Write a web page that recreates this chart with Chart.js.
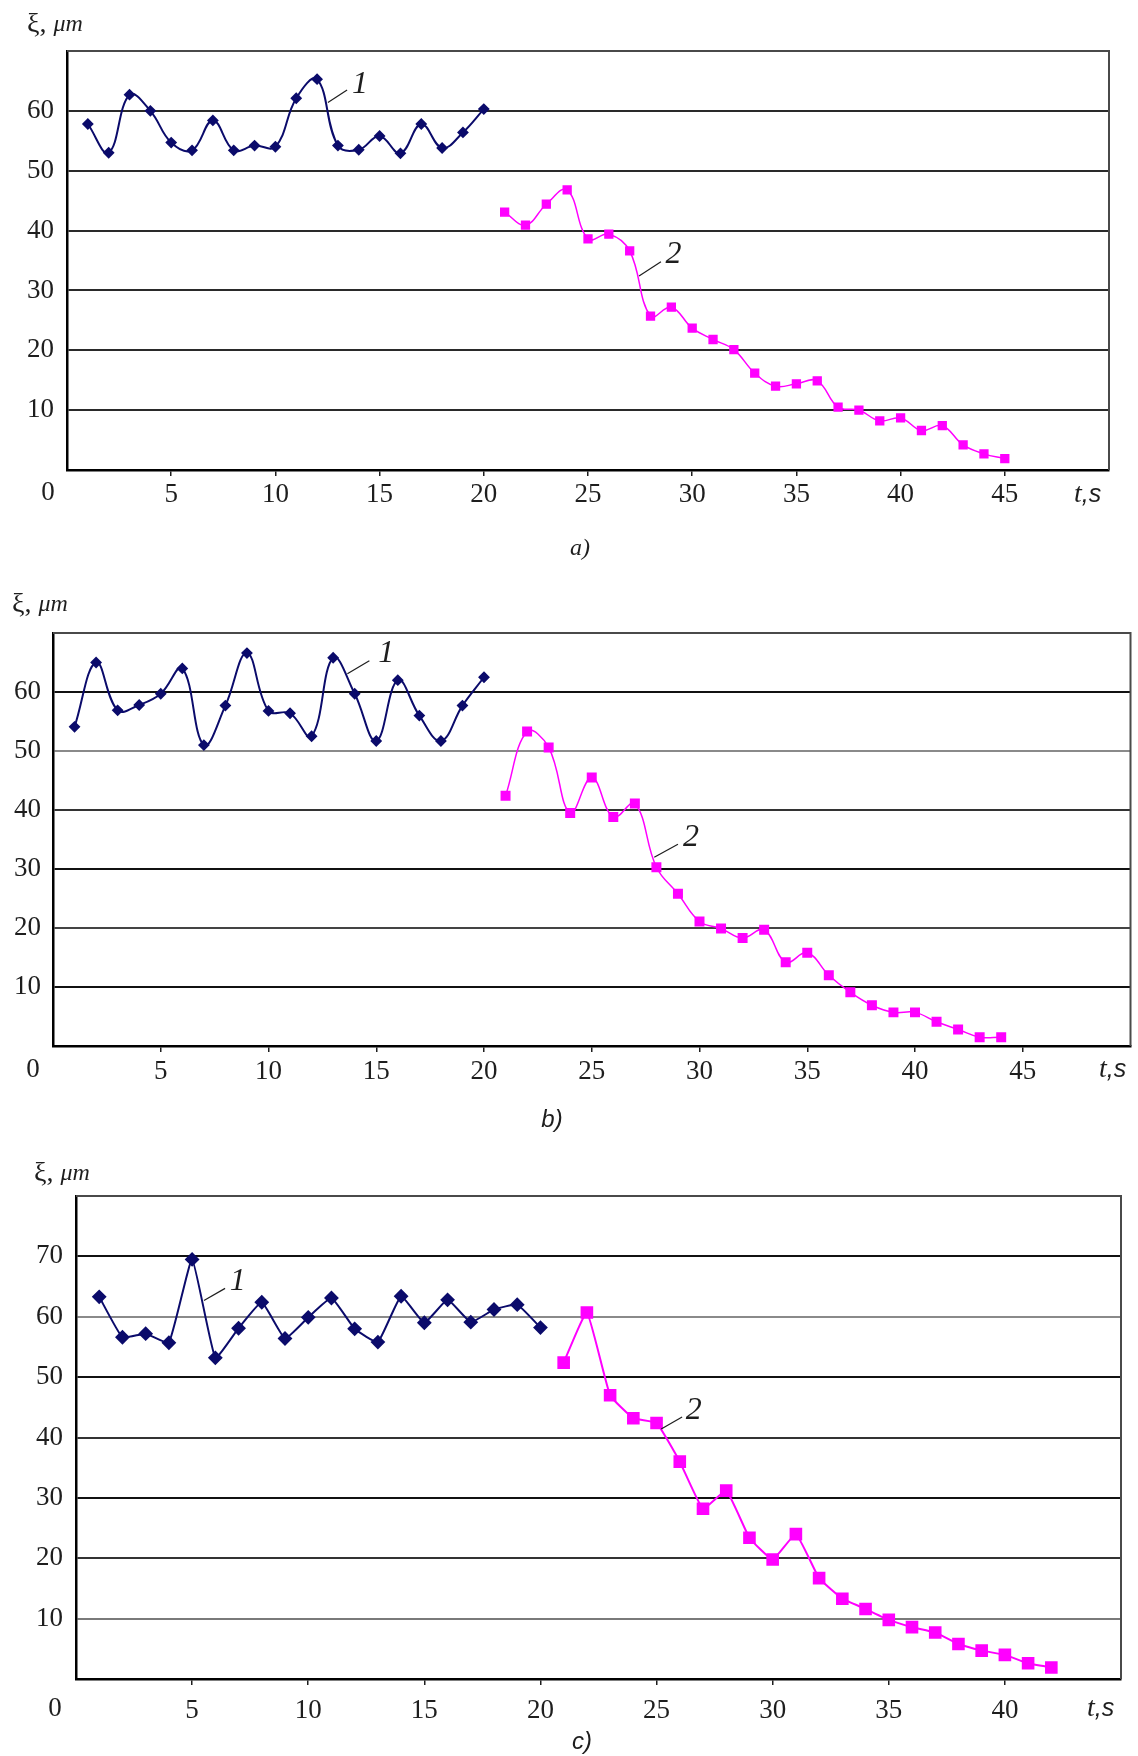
<!DOCTYPE html>
<html>
<head>
<meta charset="utf-8">
<script src="https://cdn.jsdelivr.net/npm/chart.js@4.4.1/dist/chart.umd.min.js"></script>
<style>
  html, body { margin: 0; padding: 0; background: #fff; }
  #page { position: relative; width: 1138px; height: 1756px; overflow: hidden; }
  canvas { position: absolute; left: 0; }
</style>
</head>
<body>
<div id="page">
  <canvas id="chartA" width="1138" height="580" style="top:0px"></canvas>
  <canvas id="chartB" width="1138" height="580" style="top:580px"></canvas>
  <canvas id="chartC" width="1138" height="596" style="top:1160px"></canvas>
</div>
<script>
// panel a)
const tA1 = [1, 2, 3, 4, 5, 6, 7, 8, 9, 10, 11, 12, 13, 14, 15, 16, 17, 18, 19, 20];
const xiA1 = [57.8, 53.0, 62.7, 60.0, 54.7, 53.4, 58.4, 53.4, 54.2, 54.0, 62.1, 65.3, 54.2, 53.5, 55.8, 52.9, 57.8, 53.8, 56.4, 60.3];
const tA2 = [21, 22, 23, 24, 25, 26, 27, 28, 29, 30, 31, 32, 33, 34, 35, 36, 37, 38, 39, 40, 41, 42, 43, 44, 45];
const xiA2 = [43.1, 40.9, 44.4, 46.8, 38.6, 39.4, 36.6, 25.7, 27.2, 23.7, 21.8, 20.1, 16.2, 14.0, 14.4, 14.9, 10.5, 10.0, 8.2, 8.7, 6.6, 7.4, 4.2, 2.7, 1.9];

// panel b)
const tB1 = [1, 2, 3, 4, 5, 6, 7, 8, 9, 10, 11, 12, 13, 14, 15, 16, 17, 18, 19, 20];
const xiB1 = [54.1, 65.0, 56.9, 57.8, 59.7, 64.0, 51.0, 57.7, 66.6, 56.8, 56.4, 52.5, 65.8, 59.7, 51.7, 62.0, 56.0, 51.7, 57.7, 62.5];
const tB2 = [21, 22, 23, 24, 25, 26, 27, 28, 29, 30, 31, 32, 33, 34, 35, 36, 37, 38, 39, 40, 41, 42, 43, 44];
const xiB2 = [42.4, 53.3, 50.6, 39.5, 45.5, 38.8, 41.1, 30.3, 25.8, 21.1, 19.9, 18.3, 19.7, 14.2, 15.8, 12.0, 9.1, 6.9, 5.7, 5.7, 4.1, 2.8, 1.5, 1.5];

// panel c)
const tC1 = [1, 2, 3, 4, 5, 6, 7, 8, 9, 10, 11, 12, 13, 14, 15, 16, 17, 18, 19, 20];
const xiC1 = [63.3, 56.6, 57.2, 55.7, 69.5, 53.2, 58.1, 62.4, 56.4, 59.9, 63.1, 58.0, 55.8, 63.4, 59.0, 62.8, 59.1, 61.2, 62.0, 58.2];
const tC2 = [21, 22, 23, 24, 25, 26, 27, 28, 29, 30, 31, 32, 33, 34, 35, 36, 37, 38, 39, 40, 41, 42];
const xiC2 = [52.4, 60.7, 47.0, 43.2, 42.4, 36.0, 28.2, 31.2, 23.4, 19.8, 24.0, 16.7, 13.3, 11.6, 9.8, 8.6, 7.7, 5.8, 4.7, 4.0, 2.6, 1.9];

const NAVY = '#0b0b6b';
const MAGENTA = '#ff00ff';
const INK = '#1e1e1e';

function pairs(ts, vs) {
    return ts.map((t, i) => ({ x: t, y: vs[i] }));
}

// titles, the 0 in the corner, t,s, panel letter, and the 1 / 2 callouts
const decorPlugin = {
    id: 'decor',
    afterDraw(chart, args, o) {
        const { ctx, chartArea: a } = chart;
        const sx = chart.scales.x, sy = chart.scales.y;
        ctx.save();

        // top and right edges of the frame
        ctx.strokeStyle = '#4a4a4a';
        ctx.lineWidth = 2;
        ctx.beginPath();
        ctx.moveTo(a.left, a.top);
        ctx.lineTo(a.right, a.top);
        ctx.lineTo(a.right, a.bottom);
        ctx.stroke();

        ctx.fillStyle = INK;
        ctx.textBaseline = 'middle';

        // axis title  ξ, μm
        ctx.textAlign = 'left';
        let x = o.title.x;
        ctx.font = '28px "Liberation Serif"';
        ctx.fillText('ξ, ', x, o.title.y);
        x += ctx.measureText('ξ, ').width;
        ctx.font = 'italic 24px "Liberation Serif"';
        ctx.fillText('μm', x, o.title.y);

        // corner zero
        ctx.textAlign = 'center';
        ctx.font = '27px "Liberation Serif"';
        ctx.fillText('0', o.zero.x, o.zero.y);

        // t,s
        ctx.textAlign = 'left';
        ctx.font = 'italic 28px "Liberation Serif"';
        let ux = o.unit.x - 16;
        ctx.fillText('t', ux, o.unit.y);
        ux += ctx.measureText('t').width;
        ctx.font = 'italic 25px "Liberation Sans"';
        ctx.fillText(',s', ux, o.unit.y);

        // panel letter
        ctx.textAlign = 'center';
        ctx.font = o.tag.font;
        ctx.fillText(o.tag.text, o.tag.x, o.tag.y);

        // curve callouts
        o.callouts.forEach(c => {
            ctx.strokeStyle = INK;
            ctx.lineWidth = 1.2;
            ctx.beginPath();
            ctx.moveTo(sx.getPixelForValue(c.from[0]), sy.getPixelForValue(c.from[1]));
            ctx.lineTo(sx.getPixelForValue(c.to[0]), sy.getPixelForValue(c.to[1]));
            ctx.stroke();
            ctx.font = 'italic 32px "Liberation Serif"';
            ctx.textAlign = 'center';
            ctx.fillText(c.text, sx.getPixelForValue(c.at[0]), sy.getPixelForValue(c.at[1]));
        });
        ctx.restore();
    }
};

function makePanel(id, p) {
    const hide = (v, lo, hi) => (v === lo || v === hi) ? null : String(v);
    return new Chart(document.getElementById(id), {
        type: 'line',
        data: {
            datasets: [
                {
                    data: pairs(p.t1, p.v1),
                    borderColor: NAVY,
                    backgroundColor: NAVY,
                    borderWidth: 2,
                    pointStyle: 'rectRot',
                    pointRadius: p.r1,
                    pointBackgroundColor: NAVY,
                    pointBorderColor: NAVY,
                    tension: p.tension
                },
                {
                    data: pairs(p.t2, p.v2),
                    borderColor: MAGENTA,
                    backgroundColor: MAGENTA,
                    borderWidth: p.w2,
                    pointStyle: 'rect',
                    pointRadius: p.r2,
                    pointBackgroundColor: MAGENTA,
                    pointBorderColor: MAGENTA,
                    tension: p.tension
                }
            ]
        },
        options: {
            responsive: false,
            animation: false,
            events: [],
            layout: { padding: { left: 0, top: p.top, right: p.right, bottom: p.bottom } },
            plugins: {
                legend: { display: false },
                tooltip: { enabled: false },
                decor: p.decor
            },
            scales: {
                x: {
                    type: 'linear',
                    min: 0,
                    max: p.xMax,
                    afterFit: s => { s.height = 50; },
                    ticks: {
                        stepSize: 5,
                        autoSkip: false,
                        maxRotation: 0,
                        padding: p.xPad,
                        color: INK,
                        font: { family: 'Liberation Serif', size: 27 },
                        callback: v => hide(v, 0, p.xMax)
                    },
                    grid: {
                        drawOnChartArea: false,
                        drawTicks: true,
                        tickLength: 6,
                        color: INK,
                        lineWidth: 1.5
                    },
                    border: { display: true, color: '#000', width: 2.5 }
                },
                y: {
                    min: 0,
                    max: p.yMax,
                    afterFit: s => { s.width = p.left; },
                    ticks: {
                        stepSize: 10,
                        autoSkip: false,
                        padding: p.yPad,
                        color: INK,
                        font: { family: 'Liberation Serif', size: 27 },
                        callback: v => hide(v, 0, p.yMax)
                    },
                    grid: {
                        drawTicks: false,
                        lineWidth: 2,
                        color: c => p.shades[c.tick.value] || '#2a2a2a'
                    },
                    border: { display: true, color: '#000', width: 2.5 }
                }
            }
        },
        plugins: [decorPlugin]
    });
}

makePanel('chartA', {
    t1: tA1, v1: xiA1, t2: tA2, v2: xiA2,
    xMax: 50, yMax: 70,
    left: 67, top: 51, right: 29, bottom: 60,
    xPad: 3, yPad: 13,
    r1: 4.5, r2: 5.5, w2: 1.5, tension: 0.4,
    shades: {},
    decor: {
        title: { x: 27, y: 25 },
        zero: { x: 48, y: 493 },
        unit: { x: 1090, y: 495 },
        tag: { text: 'a)', x: 580, y: 549, font: 'italic 24px "Liberation Serif"' },
        callouts: [
            { text: '1', at: [14.06, 64.4], from: [12.52, 61.4], to: [13.44, 63.5] },
            { text: '2', at: [29.1, 36.0], from: [27.45, 32.4], to: [28.5, 34.8] }
        ]
    }
});

makePanel('chartB', {
    t1: tB1, v1: xiB1, t2: tB2, v2: xiB2,
    xMax: 50, yMax: 70,
    left: 53, top: 53, right: 2, bottom: 64,
    xPad: 4, yPad: 12,
    r1: 4.5, r2: 6, w2: 1.5, tension: 0.4,
    shades: { 60: '#111', 50: '#8a8a8a', 40: '#333', 30: '#111', 20: '#444', 10: '#111' },
    decor: {
        title: { x: 12, y: 25 },
        zero: { x: 33, y: 490 },
        unit: { x: 1115, y: 490 },
        tag: { text: 'b)', x: 552, y: 540, font: 'italic 24px "Liberation Sans"' },
        callouts: [
            { text: '1', at: [15.46, 66.5], from: [13.66, 63.1], to: [14.68, 65.3] },
            { text: '2', at: [29.6, 35.4], from: [27.9, 32.0], to: [29.0, 34.2] }
        ]
    }
});

makePanel('chartC', {
    t1: tC1, v1: xiC1, t2: tC2, v2: xiC2,
    xMax: 45, yMax: 80,
    left: 76, top: 36, right: 17, bottom: 27,
    xPad: 10, yPad: 13,
    r1: 6, r2: 7.5, w2: 2, tension: 0.12,
    shades: { 70: '#111', 60: '#8a8a8a', 50: '#111', 40: '#333', 30: '#111', 20: '#333', 10: '#7a7a7a' },
    decor: {
        title: { x: 34, y: 14 },
        zero: { x: 55, y: 549 },
        unit: { x: 1103, y: 549 },
        tag: { text: 'c)', x: 582, y: 582, font: 'italic 24px "Liberation Sans"' },
        callouts: [
            { text: '1', at: [6.97, 65.9], from: [5.51, 62.7], to: [6.42, 64.7] },
            { text: '2', at: [26.6, 44.4], from: [25.2, 41.4], to: [26.1, 43.4] }
        ]
    }
});
</script>
</body>
</html>
